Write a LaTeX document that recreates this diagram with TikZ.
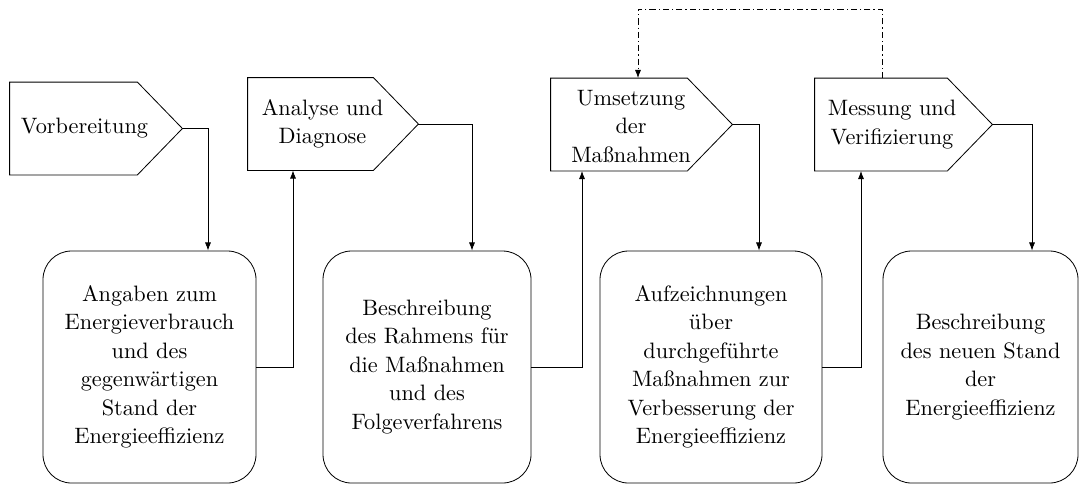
\documentclass[tikz,border=0pt]{standalone}
\usetikzlibrary{calc,arrows.meta}
\begin{document}
\begin{tikzpicture}[x=0.4914pt,y=-0.4914pt,
  every node/.style={font=\fontsize{10.95}{14}\selectfont},
  pbody/.style={draw=none, minimum height=92*0.4914pt, inner sep=0pt},
  ptext/.style={align=center, inner sep=0pt},
  bigbox/.style={draw, rounded corners=14pt, minimum height=232*0.4914pt, align=center, inner sep=0pt},
  arr/.style={-{Latex[length=4pt,width=3pt]}},
  loopline/.style={arr, dash pattern=on 3pt off 1.5pt on 0.6pt off 1.5pt}
]
\useasboundingbox (0,0) rectangle (1079,484);

% pentagon bodies
\node[pbody, minimum width=127*0.4914pt] (p1) at (73.5,128.5) {};
\node[pbody, minimum width=125*0.4914pt] (p2) at (310.5,124) {};
\node[pbody, minimum width=136*0.4914pt] (p3) at (619,124.5) {};
\node[pbody, minimum width=132*0.4914pt] (p4) at (881,124.5) {};
\foreach \p in {p1,p2,p3,p4}{
  \coordinate (\p tip) at ($(\p.east)+(45,0)$);
  \draw (\p.north west) -- (\p.north east) -- (\p tip) -- (\p.south east) -- (\p.south west) -- cycle;
}
\node[ptext] (t1) at ($(p1.center)+(11,0)$) {Vorbereitung};
\node[ptext] (t2) at ($(p2.center)+(12,0)$) {Analyse und\\Diagnose};
\node[ptext] (t3) at ($(p3.center)+(12,2)$) {Umsetzung\\der\\Maßnahmen};
\node[ptext] (t4) at ($(p4.center)+(11,0)$) {Messung und\\Verifizierung};

% bottom boxes
\node[bigbox, minimum width=213*0.4914pt] (b1) at (149.5,367) {Angaben zum\\Energieverbrauch\\und des\\gegenwärtigen\\Stand der\\Energieeffizienz};
\node[bigbox, minimum width=208*0.4914pt] (b2) at (427,367) {Beschreibung\\des Rahmens für\\die Maßnahmen\\und des\\Folgeverfahrens};
\node[bigbox, minimum width=222*0.4914pt] (b3) at (711,367) {Aufzeichnungen\\über\\durchgeführte\\Maßnahmen zur\\Verbesserung der\\Energieeffizienz};
\node[bigbox, minimum width=195*0.4914pt] (b4) at (980.5,367) {Beschreibung\\des neuen Stand\\der\\Energieeffizienz};

% connectors
\draw[arr] (p1tip) -| ($(b1.north)+(58.5,0)$);
\draw[arr] (b1.east) -| ($(p2.south)+(-17.5,0)$);
\draw[arr] (p2tip) -| ($(b2.north)+(45,0)$);
\draw[arr] (b2.east) -| ($(p3.south)+(-37,0)$);
\draw[arr] (p3tip) -| ($(b3.north)+(48,0)$);
\draw[arr] (b3.east) -| ($(p4.south)+(-20,0)$);
\draw[arr] (p4tip) -| ($(b4.north)+(51.5,0)$);
\draw[loopline] ($(p4.north)+(1,0)$) -- ++(0,-69) -| ($(p3.north)+(19,0)$);
\end{tikzpicture}
\end{document}
